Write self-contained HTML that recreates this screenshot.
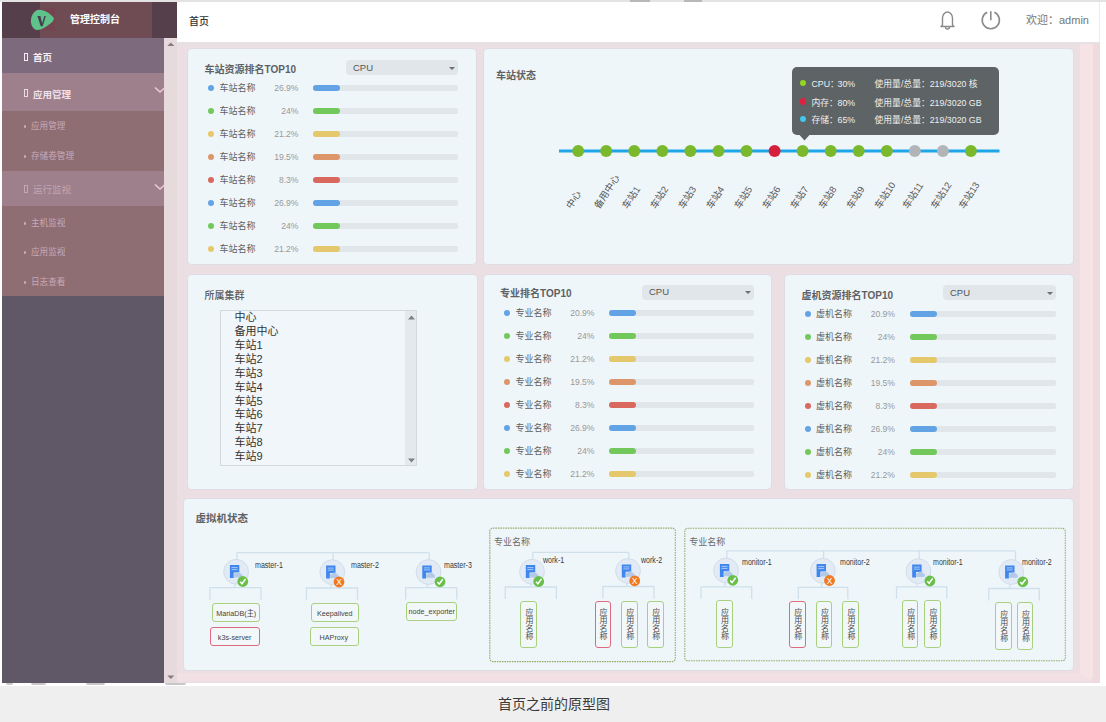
<!DOCTYPE html>
<html><head><meta charset="utf-8"><title>首页</title>
<style>
*{margin:0;padding:0;box-sizing:border-box}
html,body{width:1106px;height:722px;overflow:hidden;background:#fff;font-family:"Liberation Sans","Noto Sans CJK SC",sans-serif;}
.a{position:absolute}
#topline{left:0;top:0;width:1106px;height:2px;background:#e3e3e3}
#footer{left:0;top:686px;width:1106px;height:36px;background:#efefef}
#footer span{position:absolute;left:498px;top:10px;font-size:14px;line-height:16px;color:#3a3a3a;white-space:nowrap}
/* sidebar */
#sb{left:2px;top:2px;width:162px;height:681px;background:#605867}
#sbh{left:2px;top:2px;width:175px;height:36.4px;background:#543f4b}
#sbh2{left:40px;top:2px;width:112px;height:36.4px;background:#6f4b53}
.mi{position:absolute;left:2px;width:162px}
.mtxt{position:absolute;white-space:nowrap}
#sbscroll{left:164px;top:38px;width:13px;height:645px;background:#e7dadd}
/* main */
#main{left:177px;top:42px;width:923px;height:641px;background:#ebdfe4}
#topbar{left:177px;top:2px;width:921px;height:40px;background:#fff}
.card{position:absolute;background:#eff6f9;border-radius:4px;box-shadow:0 0 0 1px rgba(214,218,226,0.55)}
.ttl{position:absolute;font-size:10px;font-weight:bold;color:#5d6164;white-space:nowrap}
.dd{position:absolute;background:#e1e6ea;border-radius:4px}
.dd span{position:absolute;left:7px;top:1.9px;font-size:9.5px;line-height:12px;color:#555}
.dd i{position:absolute;right:3.5px;top:6.5px;width:0;height:0;border-left:3.2px solid transparent;border-right:3.2px solid transparent;border-top:3px solid #6f6f6f}
.dot{position:absolute;width:6px;height:6px;border-radius:50%}
.rn{position:absolute;font-size:9px;line-height:12px;color:#606060;white-space:nowrap}
.rp{position:absolute;width:40px;text-align:right;font-size:8.6px;line-height:12px;color:#999;white-space:nowrap}
.bt{position:absolute;height:6px;background:#e1e6ea;border-radius:2px}
.bt b{position:absolute;left:0;top:0;width:27px;height:6px;border-radius:3px}
.tt{position:absolute;font-size:8.8px;line-height:11px;color:#eef0f0;white-space:nowrap}
.li{position:absolute;left:14px;font-size:11px;line-height:14px;color:#333;white-space:nowrap}
.gl{position:absolute;font-size:9px;line-height:11px;color:#6a6a6a;white-space:nowrap}
.nl{position:absolute;font-size:8.5px;line-height:11px;color:#383838;white-space:nowrap;transform:scaleX(0.83);transform-origin:0 0}
.hb{position:absolute;border:1.5px solid;border-radius:3px;background:#f2f8fa;display:flex;align-items:center;justify-content:center}
.hb span{font-size:8px;line-height:10px;color:#444;white-space:nowrap;transform:scaleX(0.9);position:relative;top:1.3px}
.vb{position:absolute;border:1.5px solid;border-radius:3px;background:#f2f8fa;display:flex;align-items:center;justify-content:center}
.vb span{font-size:8px;line-height:9px;color:#4a4a4a;writing-mode:vertical-rl;white-space:nowrap}
</style></head><body>
<div class="a" id="topline"></div>
<div class="a" style="left:630px;top:0;width:20px;height:1.5px;background:#b8b8b8"></div>
<div class="a" style="left:684px;top:0;width:18px;height:1.5px;background:#b8b8b8"></div>
<div class="a" id="main"></div>
<div class="a" id="topbar"></div>
<div class="a" style="left:177px;top:42px;width:916px;height:639px;border-right:13px solid #f6e3e5;border-bottom:8px solid #f3e0e4;border-radius:0 0 6px 0"></div>
<div class="a" style="left:1093px;top:42px;width:7px;height:641px;background:#efdade"></div>
<div class="a" style="left:177px;top:42px;width:923px;height:1.5px;background:#e5e1e4"></div>
<div class="a" id="sb"></div>
<div class="a" id="sbh"></div>
<div class="a" id="sbh2"></div>
<div class="a" id="sbscroll"></div>

<!-- sidebar menu -->
<div class="mi" style="top:38px;height:35px;background:#7d6a7c"></div>
<div class="mi" style="top:73px;height:38px;background:#9d808b"></div>
<div class="mi" style="top:111px;height:60px;background:#8e6e73"></div>
<div class="mi" style="top:171px;height:35px;background:#9d808b"></div>
<div class="mi" style="top:206px;height:90px;background:#8e6e73"></div>
<div class="a" style="left:24px;top:53px;width:4px;height:8px;border:1px solid #f4ecf2"></div>
<div class="mtxt" style="left:33px;top:51.8px;font-size:9.5px;line-height:12px;color:#f6eef4;font-weight:bold">首页</div>
<div class="a" style="left:24px;top:89px;width:4px;height:8px;border:1px solid #ecd8e2"></div>
<div class="mtxt" style="left:33px;top:89.3px;font-size:9.5px;line-height:12px;color:#f1e1ea;font-weight:bold">应用管理</div>
<svg class="a" style="left:153px;top:85px" width="12" height="9"><polyline points="2,2.5 7,7 12,2.5" fill="none" stroke="#f0c8d8" stroke-width="1.6"/></svg>
<div class="a" style="left:23.8px;top:125.3px;width:2.6px;height:2.6px;border-radius:50%;background:#c9abba"></div><div class="mtxt" style="left:31px;top:121.3px;font-size:8.6px;line-height:11px;color:#c8a9b8">应用管理</div>
<div class="a" style="left:23.8px;top:155.3px;width:2.6px;height:2.6px;border-radius:50%;background:#c9abba"></div><div class="mtxt" style="left:31px;top:151.3px;font-size:8.6px;line-height:11px;color:#c8a9b8">存储卷管理</div>
<div class="a" style="left:24px;top:185px;width:4px;height:8px;border:1px solid #c0a7b5"></div>
<div class="mtxt" style="left:33px;top:184.3px;font-size:9.5px;line-height:12px;color:#c0a7b5">运行监视</div>
<svg class="a" style="left:153px;top:182px" width="12" height="9"><polyline points="2,2.5 7,7 12,2.5" fill="none" stroke="#f0c8d8" stroke-width="1.6"/></svg>
<div class="a" style="left:23.8px;top:222.3px;width:2.6px;height:2.6px;border-radius:50%;background:#c9abba"></div><div class="mtxt" style="left:31px;top:218.3px;font-size:8.6px;line-height:11px;color:#c8a9b8">主机监视</div>
<div class="a" style="left:23.8px;top:251.3px;width:2.6px;height:2.6px;border-radius:50%;background:#c9abba"></div><div class="mtxt" style="left:31px;top:247.3px;font-size:8.6px;line-height:11px;color:#c8a9b8">应用监视</div>
<div class="a" style="left:23.8px;top:281.3px;width:2.6px;height:2.6px;border-radius:50%;background:#c9abba"></div><div class="mtxt" style="left:31px;top:277.3px;font-size:8.6px;line-height:11px;color:#c8a9b8">日志查看</div>
<svg class="a" style="left:165px;top:40px" width="11" height="8"><polygon points="2.3,6 5.8,2.4 9.3,6" fill="#8a7a81"/></svg>
<svg class="a" style="left:165px;top:673px" width="11" height="8"><polygon points="2.3,2.5 5.8,6.1 9.3,2.5" fill="#8a7a81"/></svg>
<!-- logo -->
<svg class="a" style="left:30px;top:8px" width="25" height="23"><rect x="1.5" y="0" width="23.5" height="23" fill="#8a2f48" opacity="0.18"/><path d="M9,1.7 C14,1.5 21,6 23.5,9.5 C24.8,12 22,14.5 19,16.5 C15,19.5 11,22.5 7,22 C3,21.5 0.9,17 0.9,13 C1,7 4.5,2 9,1.7 Z" fill="#5dc38b"/><polygon points="7.4,8 10.4,8 12.2,15.3 14.3,8 15.9,8 12.7,18.2 10.7,18.2" fill="#4a3d4d"/></svg>
<div class="mtxt" style="left:70px;top:14px;font-size:10px;line-height:12px;color:#fff;font-weight:bold">管理控制台</div>
<!-- topbar -->
<div class="mtxt" style="left:189px;top:15.8px;font-size:10px;line-height:12px;color:#333;font-weight:500">首页</div>
<svg class="a" style="left:938px;top:9px" width="20" height="22"><path d="M3,17.5 L4.5,16 L4.5,9 C4.5,5.5 7,3 9.5,3 C12,3 14.5,5.5 14.5,9 L14.5,16 L16,17.5 Z" fill="none" stroke="#8a8a8a" stroke-width="1.4" stroke-linejoin="round"/><path d="M7.5,18 A2,2 0 0 0 11.5,18" fill="none" stroke="#8a8a8a" stroke-width="1.3"/></svg>
<svg class="a" style="left:980px;top:9px" width="22" height="22"><path d="M7.2,3.3 A8.6,8.6 0 1 0 14.4,3.3" fill="none" stroke="#8a8a8a" stroke-width="1.6"/><line x1="10.8" y1="2.3" x2="10.8" y2="11.3" stroke="#8a8a8a" stroke-width="1.6"/></svg>
<div class="mtxt" style="left:1026px;top:13.5px;font-size:11px;line-height:13px;color:#777">欢迎：admin</div>
<div class="a" style="left:1099px;top:2px;width:1px;height:40px;background:#ececec"></div>
<div class="a" style="left:6px;top:683px;width:7px;height:2px;background:#c9c6c9;border-radius:0 0 3px 3px"></div><div class="a" style="left:31px;top:683px;width:15px;height:2px;background:#c9c6c9;border-radius:0 0 3px 3px"></div><div class="a" style="left:86px;top:683px;width:19px;height:2px;background:#c9c6c9;border-radius:0 0 3px 3px"></div><div class="a" style="left:165px;top:683px;width:21px;height:2px;background:#c9c6c9;border-radius:0 0 3px 3px"></div>
<div class="a" id="footer"><span>首页之前的原型图</span></div>

<!-- cards -->
<div class="card" style="left:188px;top:49px;width:288px;height:215px"></div>
<div class="card" style="left:484px;top:49px;width:589px;height:215px"></div>
<div class="card" style="left:188px;top:275px;width:289px;height:214px"></div>
<div class="card" style="left:484px;top:275px;width:287px;height:214px"></div>
<div class="card" style="left:785px;top:275px;width:288px;height:214px"></div>
<div class="card" style="left:184px;top:499px;width:889px;height:171px"></div>
<!--RANK-->
<div class="ttl" style="left:204.5px;top:63.5px;line-height:12px">车站资源排名TOP10</div>
<div class="dd" style="left:346px;top:60px;width:112px;height:15px"><span>CPU</span><i></i></div>
<div class="dot" style="left:208px;top:85px;background:#62a3e6"></div>
<div class="rn" style="left:219.5px;top:82px">车站名称</div>
<div class="rp" style="left:258.5px;top:82px">26.9%</div>
<div class="bt" style="left:312.5px;top:85px;width:145.5px"><b style="background:#62a3e6"></b></div>
<div class="dot" style="left:208px;top:108px;background:#72c85b"></div>
<div class="rn" style="left:219.5px;top:105px">车站名称</div>
<div class="rp" style="left:258.5px;top:105px">24%</div>
<div class="bt" style="left:312.5px;top:108px;width:145.5px"><b style="background:#72c85b"></b></div>
<div class="dot" style="left:208px;top:131px;background:#e6c86c"></div>
<div class="rn" style="left:219.5px;top:128px">车站名称</div>
<div class="rp" style="left:258.5px;top:128px">21.2%</div>
<div class="bt" style="left:312.5px;top:131px;width:145.5px"><b style="background:#e6c86c"></b></div>
<div class="dot" style="left:208px;top:154px;background:#dc966a"></div>
<div class="rn" style="left:219.5px;top:151px">车站名称</div>
<div class="rp" style="left:258.5px;top:151px">19.5%</div>
<div class="bt" style="left:312.5px;top:154px;width:145.5px"><b style="background:#dc966a"></b></div>
<div class="dot" style="left:208px;top:177px;background:#d9685e"></div>
<div class="rn" style="left:219.5px;top:174px">车站名称</div>
<div class="rp" style="left:258.5px;top:174px">8.3%</div>
<div class="bt" style="left:312.5px;top:177px;width:145.5px"><b style="background:#d9685e"></b></div>
<div class="dot" style="left:208px;top:200px;background:#62a3e6"></div>
<div class="rn" style="left:219.5px;top:197px">车站名称</div>
<div class="rp" style="left:258.5px;top:197px">26.9%</div>
<div class="bt" style="left:312.5px;top:200px;width:145.5px"><b style="background:#62a3e6"></b></div>
<div class="dot" style="left:208px;top:223px;background:#72c85b"></div>
<div class="rn" style="left:219.5px;top:220px">车站名称</div>
<div class="rp" style="left:258.5px;top:220px">24%</div>
<div class="bt" style="left:312.5px;top:223px;width:145.5px"><b style="background:#72c85b"></b></div>
<div class="dot" style="left:208px;top:246px;background:#e6c86c"></div>
<div class="rn" style="left:219.5px;top:243px">车站名称</div>
<div class="rp" style="left:258.5px;top:243px">21.2%</div>
<div class="bt" style="left:312.5px;top:246px;width:145.5px"><b style="background:#e6c86c"></b></div>
<div class="ttl" style="left:500px;top:288px;line-height:12px">专业排名TOP10</div>
<div class="dd" style="left:642px;top:284.5px;width:112px;height:15.0px"><span>CPU</span><i></i></div>
<div class="dot" style="left:503.5px;top:309.5px;background:#62a3e6"></div>
<div class="rn" style="left:515.5px;top:306.5px">专业名称</div>
<div class="rp" style="left:554.5px;top:306.5px">20.9%</div>
<div class="bt" style="left:608.5px;top:309.5px;width:145.5px"><b style="background:#62a3e6"></b></div>
<div class="dot" style="left:503.5px;top:332.5px;background:#72c85b"></div>
<div class="rn" style="left:515.5px;top:329.5px">专业名称</div>
<div class="rp" style="left:554.5px;top:329.5px">24%</div>
<div class="bt" style="left:608.5px;top:332.5px;width:145.5px"><b style="background:#72c85b"></b></div>
<div class="dot" style="left:503.5px;top:355.5px;background:#e6c86c"></div>
<div class="rn" style="left:515.5px;top:352.5px">专业名称</div>
<div class="rp" style="left:554.5px;top:352.5px">21.2%</div>
<div class="bt" style="left:608.5px;top:355.5px;width:145.5px"><b style="background:#e6c86c"></b></div>
<div class="dot" style="left:503.5px;top:378.5px;background:#dc966a"></div>
<div class="rn" style="left:515.5px;top:375.5px">专业名称</div>
<div class="rp" style="left:554.5px;top:375.5px">19.5%</div>
<div class="bt" style="left:608.5px;top:378.5px;width:145.5px"><b style="background:#dc966a"></b></div>
<div class="dot" style="left:503.5px;top:401.5px;background:#d9685e"></div>
<div class="rn" style="left:515.5px;top:398.5px">专业名称</div>
<div class="rp" style="left:554.5px;top:398.5px">8.3%</div>
<div class="bt" style="left:608.5px;top:401.5px;width:145.5px"><b style="background:#d9685e"></b></div>
<div class="dot" style="left:503.5px;top:424.5px;background:#62a3e6"></div>
<div class="rn" style="left:515.5px;top:421.5px">专业名称</div>
<div class="rp" style="left:554.5px;top:421.5px">26.9%</div>
<div class="bt" style="left:608.5px;top:424.5px;width:145.5px"><b style="background:#62a3e6"></b></div>
<div class="dot" style="left:503.5px;top:447.5px;background:#72c85b"></div>
<div class="rn" style="left:515.5px;top:444.5px">专业名称</div>
<div class="rp" style="left:554.5px;top:444.5px">24%</div>
<div class="bt" style="left:608.5px;top:447.5px;width:145.5px"><b style="background:#72c85b"></b></div>
<div class="dot" style="left:503.5px;top:470.5px;background:#e6c86c"></div>
<div class="rn" style="left:515.5px;top:467.5px">专业名称</div>
<div class="rp" style="left:554.5px;top:467.5px">21.2%</div>
<div class="bt" style="left:608.5px;top:470.5px;width:145.5px"><b style="background:#e6c86c"></b></div>
<div class="ttl" style="left:801.5px;top:289.5px;line-height:12px">虚机资源排名TOP10</div>
<div class="dd" style="left:943px;top:285px;width:113px;height:15px"><span>CPU</span><i></i></div>
<div class="dot" style="left:804.5px;top:310.5px;background:#62a3e6"></div>
<div class="rn" style="left:816px;top:307.5px">虚机名称</div>
<div class="rp" style="left:855px;top:307.5px">20.9%</div>
<div class="bt" style="left:910px;top:310.5px;width:146px"><b style="background:#62a3e6"></b></div>
<div class="dot" style="left:804.5px;top:333.5px;background:#72c85b"></div>
<div class="rn" style="left:816px;top:330.5px">虚机名称</div>
<div class="rp" style="left:855px;top:330.5px">24%</div>
<div class="bt" style="left:910px;top:333.5px;width:146px"><b style="background:#72c85b"></b></div>
<div class="dot" style="left:804.5px;top:356.5px;background:#e6c86c"></div>
<div class="rn" style="left:816px;top:353.5px">虚机名称</div>
<div class="rp" style="left:855px;top:353.5px">21.2%</div>
<div class="bt" style="left:910px;top:356.5px;width:146px"><b style="background:#e6c86c"></b></div>
<div class="dot" style="left:804.5px;top:379.5px;background:#dc966a"></div>
<div class="rn" style="left:816px;top:376.5px">虚机名称</div>
<div class="rp" style="left:855px;top:376.5px">19.5%</div>
<div class="bt" style="left:910px;top:379.5px;width:146px"><b style="background:#dc966a"></b></div>
<div class="dot" style="left:804.5px;top:402.5px;background:#d9685e"></div>
<div class="rn" style="left:816px;top:399.5px">虚机名称</div>
<div class="rp" style="left:855px;top:399.5px">8.3%</div>
<div class="bt" style="left:910px;top:402.5px;width:146px"><b style="background:#d9685e"></b></div>
<div class="dot" style="left:804.5px;top:425.5px;background:#62a3e6"></div>
<div class="rn" style="left:816px;top:422.5px">虚机名称</div>
<div class="rp" style="left:855px;top:422.5px">26.9%</div>
<div class="bt" style="left:910px;top:425.5px;width:146px"><b style="background:#62a3e6"></b></div>
<div class="dot" style="left:804.5px;top:448.5px;background:#72c85b"></div>
<div class="rn" style="left:816px;top:445.5px">虚机名称</div>
<div class="rp" style="left:855px;top:445.5px">24%</div>
<div class="bt" style="left:910px;top:448.5px;width:146px"><b style="background:#72c85b"></b></div>
<div class="dot" style="left:804.5px;top:471.5px;background:#e6c86c"></div>
<div class="rn" style="left:816px;top:468.5px">虚机名称</div>
<div class="rp" style="left:855px;top:468.5px">21.2%</div>
<div class="bt" style="left:910px;top:471.5px;width:146px"><b style="background:#e6c86c"></b></div>
<!--/RANK-->
<!--TL-->
<div class="ttl" style="left:496px;top:69.5px;line-height:12px;color:#5d6164;font-size:10px">车站状态</div>
<svg class="a" style="left:484px;top:49px" width="589" height="215" viewBox="484 49 589 215">
<line x1="559" y1="151" x2="999.5" y2="151" stroke="#1ea6e8" stroke-width="3.2"/>
<circle cx="578.2" cy="151" r="6" fill="#7ab82c"/>
<text x="571.2" y="209.5" transform="rotate(-57 571.2 209.5)" font-size="9.5" fill="#555" font-family="Liberation Sans, Noto Sans CJK SC, sans-serif">中心</text>
<circle cx="606.2" cy="151" r="6" fill="#7ab82c"/>
<text x="599.2" y="209.5" transform="rotate(-57 599.2 209.5)" font-size="9.5" fill="#555" font-family="Liberation Sans, Noto Sans CJK SC, sans-serif">备用中心</text>
<circle cx="634.3" cy="151" r="6" fill="#7ab82c"/>
<text x="627.3" y="209.5" transform="rotate(-57 627.3 209.5)" font-size="9.5" fill="#555" font-family="Liberation Sans, Noto Sans CJK SC, sans-serif">车站1</text>
<circle cx="662.4" cy="151" r="6" fill="#7ab82c"/>
<text x="655.4" y="209.5" transform="rotate(-57 655.4 209.5)" font-size="9.5" fill="#555" font-family="Liberation Sans, Noto Sans CJK SC, sans-serif">车站2</text>
<circle cx="690.4" cy="151" r="6" fill="#7ab82c"/>
<text x="683.4" y="209.5" transform="rotate(-57 683.4 209.5)" font-size="9.5" fill="#555" font-family="Liberation Sans, Noto Sans CJK SC, sans-serif">车站3</text>
<circle cx="718.5" cy="151" r="6" fill="#7ab82c"/>
<text x="711.5" y="209.5" transform="rotate(-57 711.5 209.5)" font-size="9.5" fill="#555" font-family="Liberation Sans, Noto Sans CJK SC, sans-serif">车站4</text>
<circle cx="746.5" cy="151" r="6" fill="#7ab82c"/>
<text x="739.5" y="209.5" transform="rotate(-57 739.5 209.5)" font-size="9.5" fill="#555" font-family="Liberation Sans, Noto Sans CJK SC, sans-serif">车站5</text>
<circle cx="774.6" cy="151" r="6" fill="#d6203b"/>
<text x="767.6" y="209.5" transform="rotate(-57 767.6 209.5)" font-size="9.5" fill="#555" font-family="Liberation Sans, Noto Sans CJK SC, sans-serif">车站6</text>
<circle cx="802.6" cy="151" r="6" fill="#7ab82c"/>
<text x="795.6" y="209.5" transform="rotate(-57 795.6 209.5)" font-size="9.5" fill="#555" font-family="Liberation Sans, Noto Sans CJK SC, sans-serif">车站7</text>
<circle cx="830.7" cy="151" r="6" fill="#7ab82c"/>
<text x="823.7" y="209.5" transform="rotate(-57 823.7 209.5)" font-size="9.5" fill="#555" font-family="Liberation Sans, Noto Sans CJK SC, sans-serif">车站8</text>
<circle cx="858.7" cy="151" r="6" fill="#7ab82c"/>
<text x="851.7" y="209.5" transform="rotate(-57 851.7 209.5)" font-size="9.5" fill="#555" font-family="Liberation Sans, Noto Sans CJK SC, sans-serif">车站9</text>
<circle cx="886.8" cy="151" r="6" fill="#7ab82c"/>
<text x="879.8" y="209.5" transform="rotate(-57 879.8 209.5)" font-size="9.5" fill="#555" font-family="Liberation Sans, Noto Sans CJK SC, sans-serif">车站10</text>
<circle cx="914.8" cy="151" r="6" fill="#b2b5b8"/>
<text x="907.8" y="209.5" transform="rotate(-57 907.8 209.5)" font-size="9.5" fill="#555" font-family="Liberation Sans, Noto Sans CJK SC, sans-serif">车站11</text>
<circle cx="942.9" cy="151" r="6" fill="#b2b5b8"/>
<text x="935.9" y="209.5" transform="rotate(-57 935.9 209.5)" font-size="9.5" fill="#555" font-family="Liberation Sans, Noto Sans CJK SC, sans-serif">车站12</text>
<circle cx="970.9" cy="151" r="6" fill="#7ab82c"/>
<text x="963.9" y="209.5" transform="rotate(-57 963.9 209.5)" font-size="9.5" fill="#555" font-family="Liberation Sans, Noto Sans CJK SC, sans-serif">车站13</text>
</svg>
<div class="a" style="left:792px;top:67px;width:207px;height:68px;background:#5e6365;border-radius:5px"></div>
<svg class="a" style="left:799px;top:134px" width="11" height="7"><polygon points="0.5,1 10.5,1 5.5,6.5" fill="#5e6365"/></svg>
<div class="a" style="left:799.5px;top:80.2px;width:6.3px;height:6.3px;border-radius:50%;background:#93d424"></div>
<div class="a" style="left:799.5px;top:98.3px;width:6.3px;height:6.3px;border-radius:50%;background:#e1203f"></div>
<div class="a" style="left:799.5px;top:116px;width:6.3px;height:6.3px;border-radius:50%;background:#41c8ea"></div>
<div class="tt" style="left:811.5px;top:78.8px">CPU：</div><div class="tt" style="left:837.5px;top:78.8px">30%</div><div class="tt" style="left:874.5px;top:78.8px">使用量/总量：219/3020 核</div>
<div class="tt" style="left:811.5px;top:98px">内存：</div><div class="tt" style="left:837.5px;top:98px">80%</div><div class="tt" style="left:874.5px;top:98px">使用量/总量：219/3020 GB</div>
<div class="tt" style="left:811.5px;top:115.3px">存储：</div><div class="tt" style="left:837.5px;top:115.3px">65%</div><div class="tt" style="left:874.5px;top:115.3px">使用量/总量：219/3020 GB</div>
<!--/TL-->
<!--LIST-->
<div class="ttl" style="left:204.5px;top:289.5px;line-height:12px;color:#5a5d60;font-size:10px;font-weight:500">所属集群</div>
<div class="a" style="left:219.5px;top:310px;width:197.5px;height:155.5px;border:1px solid #d3d9dd;background:#f0f6f9;overflow:hidden">
<div class="li" style="top:-0.6px">中心</div>
<div class="li" style="top:13.2px">备用中心</div>
<div class="li" style="top:27.1px">车站1</div>
<div class="li" style="top:40.9px">车站2</div>
<div class="li" style="top:54.8px">车站3</div>
<div class="li" style="top:68.6px">车站4</div>
<div class="li" style="top:82.5px">车站5</div>
<div class="li" style="top:96.3px">车站6</div>
<div class="li" style="top:110.2px">车站7</div>
<div class="li" style="top:124.0px">车站8</div>
<div class="li" style="top:137.9px">车站9</div>
<div class="a" style="left:184px;top:0;width:13px;height:154px;background:#e4e9ec"></div>
<svg class="a" style="left:186px;top:3px" width="9" height="7"><polygon points="1,5.5 4.5,1.5 8,5.5" fill="#7d8186"/></svg>
<svg class="a" style="left:186px;top:146px" width="9" height="7"><polygon points="1,1.5 4.5,5.5 8,1.5" fill="#7d8186"/></svg>
</div>
<!--/LIST-->
<!--VM-->
<div class="ttl" style="left:195.5px;top:512px;line-height:13px;color:#5d6164;font-size:10.5px">虚拟机状态</div>
<svg class="a" style="left:484px;top:522px" width="590" height="146"><rect x="5.8" y="6.1" width="185.5" height="133.5" rx="3" fill="none" stroke="#98ab6c" stroke-width="1.1" stroke-dasharray="1.6 0.9"/><rect x="200.8" y="6.3" width="380.5" height="132.5" rx="3" fill="none" stroke="#98ab6c" stroke-width="1.1" stroke-dasharray="1.6 0.9"/></svg>
<div class="gl" style="left:494px;top:536.5px">专业名称</div>
<div class="gl" style="left:689.3px;top:536.8px">专业名称</div>
<svg class="a" style="left:184px;top:499px" width="889" height="171" viewBox="184 499 889 171">
<line x1="236.8" y1="552.6" x2="428.5" y2="552.6" stroke="#cfe0ec" stroke-width="1.3"/>
<line x1="532.5" y1="552.3" x2="628.5" y2="552.3" stroke="#cfe0ec" stroke-width="1.3"/>
<line x1="726.3" y1="550.8" x2="1015.5" y2="550.8" stroke="#cfe0ec" stroke-width="1.3"/>
<line x1="236.9" y1="552.6" x2="236.9" y2="559.7" stroke="#cfe0ec" stroke-width="1.3"/>
<line x1="234.8" y1="583.7" x2="234.8" y2="587.7" stroke="#cfe0ec" stroke-width="1.3"/>
<polyline points="210,599.7 210,587.7 261,587.7 261,599.7" fill="none" stroke="#cfe0ec" stroke-width="1.3"/>
<circle cx="236.1" cy="571.7" r="12.4" fill="#e2ebf5" stroke="#ccd8e4" stroke-width="0.8"/>
<path d="M229.9,565.1 h9.4 v7.4 h-5.6 v5.6 h-3.8 z" fill="#3f86ee"/>
<rect x="231.5" y="567.1" width="6" height="1" fill="#a9c8f2"/>
<rect x="231.5" y="569.1" width="6" height="1" fill="#a9c8f2"/>
<path d="M234.3,577.5 a2.4,2.4 0 0 1 1.4,-4.2 a3,3 0 0 1 5.2,0.4 a2.1,2.1 0 0 1 0.8,3.8 z" fill="#b3c9e8"/>
<circle cx="242.8" cy="581.5" r="5.4" fill="#6abf4a"/>
<polyline points="240.2,581.8 242.0,583.8 245.6,578.9" fill="none" stroke="#fff" stroke-width="1.5"/>
<line x1="333.1" y1="552.6" x2="333.1" y2="560.2" stroke="#cfe0ec" stroke-width="1.3"/>
<line x1="331.0" y1="584.2" x2="331.0" y2="588" stroke="#cfe0ec" stroke-width="1.3"/>
<polyline points="306.4,600 306.4,588 357.5,588 357.5,600" fill="none" stroke="#cfe0ec" stroke-width="1.3"/>
<circle cx="332.3" cy="572.2" r="12.4" fill="#e2ebf5" stroke="#ccd8e4" stroke-width="0.8"/>
<path d="M326.1,565.6 h9.4 v7.4 h-5.6 v5.6 h-3.8 z" fill="#3f86ee"/>
<rect x="327.7" y="567.6" width="6" height="1" fill="#a9c8f2"/>
<rect x="327.7" y="569.6" width="6" height="1" fill="#a9c8f2"/>
<path d="M330.5,578.0 a2.4,2.4 0 0 1 1.4,-4.2 a3,3 0 0 1 5.2,0.4 a2.1,2.1 0 0 1 0.8,3.8 z" fill="#b3c9e8"/>
<circle cx="339.0" cy="582.0" r="5.4" fill="#f07a22"/>
<text x="339.0" y="585.1" text-anchor="middle" font-size="8.5" fill="#fff" font-family="Liberation Sans, sans-serif">X</text>
<line x1="429.3" y1="552.6" x2="429.3" y2="560.0" stroke="#cfe0ec" stroke-width="1.3"/>
<line x1="427.2" y1="584.0" x2="427.2" y2="587.6" stroke="#cfe0ec" stroke-width="1.3"/>
<polyline points="405.7,599.6 405.7,587.6 456.7,587.6 456.7,599.6" fill="none" stroke="#cfe0ec" stroke-width="1.3"/>
<circle cx="428.5" cy="572" r="12.4" fill="#e2ebf5" stroke="#ccd8e4" stroke-width="0.8"/>
<path d="M422.3,565.4 h9.4 v7.4 h-5.6 v5.6 h-3.8 z" fill="#3f86ee"/>
<rect x="423.9" y="567.4" width="6" height="1" fill="#a9c8f2"/>
<rect x="423.9" y="569.4" width="6" height="1" fill="#a9c8f2"/>
<path d="M426.7,577.8 a2.4,2.4 0 0 1 1.4,-4.2 a3,3 0 0 1 5.2,0.4 a2.1,2.1 0 0 1 0.8,3.8 z" fill="#b3c9e8"/>
<circle cx="440.0" cy="581.8" r="5.4" fill="#6abf4a"/>
<polyline points="437.4,582.1 439.2,584.1 442.8,579.2" fill="none" stroke="#fff" stroke-width="1.5"/>
<line x1="532.8" y1="552.3" x2="532.8" y2="559.7" stroke="#cfe0ec" stroke-width="1.3"/>
<line x1="530.7" y1="583.7" x2="530.7" y2="587" stroke="#cfe0ec" stroke-width="1.3"/>
<polyline points="505.3,599 505.3,587 556.4,587 556.4,599" fill="none" stroke="#cfe0ec" stroke-width="1.3"/>
<circle cx="532" cy="571.7" r="12.4" fill="#e2ebf5" stroke="#ccd8e4" stroke-width="0.8"/>
<path d="M525.8,565.1 h9.4 v7.4 h-5.6 v5.6 h-3.8 z" fill="#3f86ee"/>
<rect x="527.4" y="567.1" width="6" height="1" fill="#a9c8f2"/>
<rect x="527.4" y="569.1" width="6" height="1" fill="#a9c8f2"/>
<path d="M530.2,577.5 a2.4,2.4 0 0 1 1.4,-4.2 a3,3 0 0 1 5.2,0.4 a2.1,2.1 0 0 1 0.8,3.8 z" fill="#b3c9e8"/>
<circle cx="538.7" cy="581.5" r="5.4" fill="#6abf4a"/>
<polyline points="536.1,581.8 537.9,583.8 541.5,578.9" fill="none" stroke="#fff" stroke-width="1.5"/>
<line x1="628.8" y1="552.3" x2="628.8" y2="559.0" stroke="#cfe0ec" stroke-width="1.3"/>
<line x1="626.7" y1="583.0" x2="626.7" y2="586.5" stroke="#cfe0ec" stroke-width="1.3"/>
<polyline points="602.9,598.5 602.9,586.5 654,586.5 654,598.5" fill="none" stroke="#cfe0ec" stroke-width="1.3"/>
<circle cx="628" cy="571" r="12.4" fill="#e2ebf5" stroke="#ccd8e4" stroke-width="0.8"/>
<path d="M621.8,564.4 h9.4 v7.4 h-5.6 v5.6 h-3.8 z" fill="#3f86ee"/>
<rect x="623.4" y="566.4" width="6" height="1" fill="#a9c8f2"/>
<rect x="623.4" y="568.4" width="6" height="1" fill="#a9c8f2"/>
<path d="M626.2,576.8 a2.4,2.4 0 0 1 1.4,-4.2 a3,3 0 0 1 5.2,0.4 a2.1,2.1 0 0 1 0.8,3.8 z" fill="#b3c9e8"/>
<circle cx="634.7" cy="580.8" r="5.4" fill="#f07a22"/>
<text x="634.7" y="583.9" text-anchor="middle" font-size="8.5" fill="#fff" font-family="Liberation Sans, sans-serif">X</text>
<line x1="726.9" y1="550.8" x2="726.9" y2="558.5" stroke="#cfe0ec" stroke-width="1.3"/>
<line x1="724.8" y1="582.5" x2="724.8" y2="586.9" stroke="#cfe0ec" stroke-width="1.3"/>
<polyline points="701,598.9 701,586.9 751.7,586.9 751.7,598.9" fill="none" stroke="#cfe0ec" stroke-width="1.3"/>
<circle cx="726.1" cy="570.5" r="12.4" fill="#e2ebf5" stroke="#ccd8e4" stroke-width="0.8"/>
<path d="M719.9,563.9 h9.4 v7.4 h-5.6 v5.6 h-3.8 z" fill="#3f86ee"/>
<rect x="721.5" y="565.9" width="6" height="1" fill="#a9c8f2"/>
<rect x="721.5" y="567.9" width="6" height="1" fill="#a9c8f2"/>
<path d="M724.3,576.3 a2.4,2.4 0 0 1 1.4,-4.2 a3,3 0 0 1 5.2,0.4 a2.1,2.1 0 0 1 0.8,3.8 z" fill="#b3c9e8"/>
<circle cx="732.8" cy="580.3" r="5.4" fill="#6abf4a"/>
<polyline points="730.2,580.6 732.0,582.6 735.6,577.7" fill="none" stroke="#fff" stroke-width="1.5"/>
<line x1="823.6" y1="550.8" x2="823.6" y2="558.7" stroke="#cfe0ec" stroke-width="1.3"/>
<line x1="821.5" y1="582.7" x2="821.5" y2="587.3" stroke="#cfe0ec" stroke-width="1.3"/>
<polyline points="798.3,599.3 798.3,587.3 847.8,587.3 847.8,599.3" fill="none" stroke="#cfe0ec" stroke-width="1.3"/>
<circle cx="822.8" cy="570.7" r="12.4" fill="#e2ebf5" stroke="#ccd8e4" stroke-width="0.8"/>
<path d="M816.6,564.1 h9.4 v7.4 h-5.6 v5.6 h-3.8 z" fill="#3f86ee"/>
<rect x="818.2" y="566.1" width="6" height="1" fill="#a9c8f2"/>
<rect x="818.2" y="568.1" width="6" height="1" fill="#a9c8f2"/>
<path d="M821.0,576.5 a2.4,2.4 0 0 1 1.4,-4.2 a3,3 0 0 1 5.2,0.4 a2.1,2.1 0 0 1 0.8,3.8 z" fill="#b3c9e8"/>
<circle cx="829.5" cy="580.5" r="5.4" fill="#f07a22"/>
<text x="829.5" y="583.6" text-anchor="middle" font-size="8.5" fill="#fff" font-family="Liberation Sans, sans-serif">X</text>
<line x1="919.2" y1="550.8" x2="919.2" y2="559.2" stroke="#cfe0ec" stroke-width="1.3"/>
<line x1="917.1" y1="583.2" x2="917.1" y2="586.8" stroke="#cfe0ec" stroke-width="1.3"/>
<polyline points="896.5,598.8 896.5,586.8 946.7,586.8 946.7,598.8" fill="none" stroke="#cfe0ec" stroke-width="1.3"/>
<circle cx="918.4" cy="571.2" r="12.4" fill="#e2ebf5" stroke="#ccd8e4" stroke-width="0.8"/>
<path d="M912.2,564.6 h9.4 v7.4 h-5.6 v5.6 h-3.8 z" fill="#3f86ee"/>
<rect x="913.8" y="566.6" width="6" height="1" fill="#a9c8f2"/>
<rect x="913.8" y="568.6" width="6" height="1" fill="#a9c8f2"/>
<path d="M916.6,577.0 a2.4,2.4 0 0 1 1.4,-4.2 a3,3 0 0 1 5.2,0.4 a2.1,2.1 0 0 1 0.8,3.8 z" fill="#b3c9e8"/>
<circle cx="929.9" cy="581.0" r="5.4" fill="#6abf4a"/>
<polyline points="927.3,581.3 929.1,583.3 932.7,578.4" fill="none" stroke="#fff" stroke-width="1.5"/>
<line x1="1015.5" y1="550.8" x2="1015.5" y2="560.0" stroke="#cfe0ec" stroke-width="1.3"/>
<line x1="1010.0" y1="584.0" x2="1010.0" y2="588.5" stroke="#cfe0ec" stroke-width="1.3"/>
<polyline points="988.8,600.5 988.8,588.5 1039.3,588.5 1039.3,600.5" fill="none" stroke="#cfe0ec" stroke-width="1.3"/>
<circle cx="1011.3" cy="572" r="12.4" fill="#e2ebf5" stroke="#ccd8e4" stroke-width="0.8"/>
<path d="M1005.1,565.4 h9.4 v7.4 h-5.6 v5.6 h-3.8 z" fill="#3f86ee"/>
<rect x="1006.7" y="567.4" width="6" height="1" fill="#a9c8f2"/>
<rect x="1006.7" y="569.4" width="6" height="1" fill="#a9c8f2"/>
<path d="M1009.5,577.8 a2.4,2.4 0 0 1 1.4,-4.2 a3,3 0 0 1 5.2,0.4 a2.1,2.1 0 0 1 0.8,3.8 z" fill="#b3c9e8"/>
<circle cx="1022.8" cy="581.8" r="5.4" fill="#6abf4a"/>
<polyline points="1020.2,582.1 1022.0,584.1 1025.6,579.2" fill="none" stroke="#fff" stroke-width="1.5"/>
</svg>
<div class="nl" style="left:254.7px;top:560.1px">master-1</div>
<div class="hb" style="left:212.2px;top:602.9px;width:47.6px;height:19.1px;border-color:#a8d07e"><span>MariaDB(主)</span></div>
<div class="hb" style="left:210.4px;top:627.3px;width:49.4px;height:18.7px;border-color:#dc6b80"><span>k3s-server</span></div>
<div class="nl" style="left:351.4px;top:560.1px">master-2</div>
<div class="hb" style="left:311px;top:603px;width:47.7px;height:19.0px;border-color:#a8d07e"><span>Keepalived</span></div>
<div class="hb" style="left:309.5px;top:627px;width:49.2px;height:18.8px;border-color:#a8d07e"><span>HAProxy</span></div>
<div class="nl" style="left:443.8px;top:560.1px">master-3</div>
<div class="hb" style="left:406.4px;top:601.7px;width:51.1px;height:18.9px;border-color:#a8d07e"><span>node_exporter</span></div>
<div class="nl" style="left:543.4px;top:554.7px">work-1</div>
<div class="vb" style="left:520.1px;top:600.6px;width:16.9px;height:47.3px;border-color:#a8d07e"><span>应用名称</span></div>
<div class="nl" style="left:641px;top:554.7px">work-2</div>
<div class="vb" style="left:594.5px;top:600.6px;width:16.0px;height:47.3px;border-color:#dc6b80"><span>应用名称</span></div>
<div class="vb" style="left:620.9px;top:600.6px;width:16.7px;height:47.3px;border-color:#a8d07e"><span>应用名称</span></div>
<div class="vb" style="left:647px;top:600.6px;width:16.5px;height:47.3px;border-color:#a8d07e"><span>应用名称</span></div>
<div class="nl" style="left:741.6px;top:556.8px">monitor-1</div>
<div class="vb" style="left:715.5px;top:600.4px;width:17.2px;height:47.9px;border-color:#a8d07e"><span>应用名称</span></div>
<div class="nl" style="left:839.8px;top:557.0px">monitor-2</div>
<div class="vb" style="left:788.6px;top:600.6px;width:17.1px;height:47.4px;border-color:#dc6b80"><span>应用名称</span></div>
<div class="vb" style="left:815.7px;top:600.6px;width:16.6px;height:47.4px;border-color:#a8d07e"><span>应用名称</span></div>
<div class="vb" style="left:842.3px;top:600.6px;width:16.6px;height:47.4px;border-color:#a8d07e"><span>应用名称</span></div>
<div class="nl" style="left:932.8px;top:556.8px">monitor-1</div>
<div class="vb" style="left:902.2px;top:600.3px;width:16.2px;height:47.9px;border-color:#a8d07e"><span>应用名称</span></div>
<div class="vb" style="left:924.2px;top:600.3px;width:16.4px;height:47.9px;border-color:#a8d07e"><span>应用名称</span></div>
<div class="nl" style="left:1022px;top:556.8px">monitor-2</div>
<div class="vb" style="left:994.7px;top:601.5px;width:16.9px;height:48.0px;border-color:#a8d07e"><span>应用名称</span></div>
<div class="vb" style="left:1016.8px;top:601.5px;width:16.5px;height:48.0px;border-color:#a8d07e"><span>应用名称</span></div>
<!--/VM-->
</body></html>
